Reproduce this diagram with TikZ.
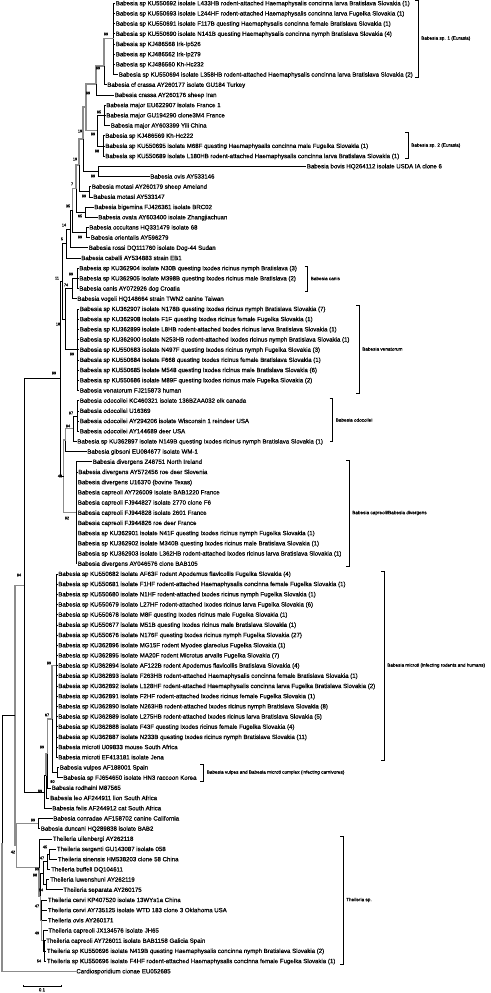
\documentclass[tikz,border=0pt]{standalone}
\usepackage{fontspec}
\setmainfont{Liberation Sans}[FakeBold=0.45]
\newcommand{\lf}[3]{\coordinate (L#1) at (#2,{3.2+(#1-1)*10.19});\node[lt] (T#1) at ([xshift=.7bp,yshift=-2.1bp]L#1) {#3};}
\begin{document}
\begin{tikzpicture}[x=1bp,y=-1bp,
  lt/.style={anchor=base west,inner sep=0,font=\fontsize{6.1}{7}\selectfont},
  bs/.style={inner sep=0,font=\fontsize{3.8}{4}\selectfont},
  cl/.style={anchor=west,inner sep=0,font=\fontsize{4.7}{5}\selectfont},
  br/.style={line width=0.55bp,black},
  gb/.style={line width=1.1bp,black!45},
  brk/.style={line width=0.7bp,black}]
\useasboundingbox (0,0) rectangle (491,993);
% internal nodes
\coordinate (n1) at (113.5,38.9);
\coordinate (n2) at (104,66);
\coordinate (n3) at (96,84);
\coordinate (nM) at (104.3,115.3);
\coordinate (nS2) at (103.5,145.9);
\coordinate (nMS) at (97,130.6);
\coordinate (nA) at (86,107);
\coordinate (nBO) at (98,171.3);
\coordinate (nA2) at (83,139);
\coordinate (nMot) at (89,191.7);
\coordinate (nA3) at (79,165);
\coordinate (nBigO) at (85,212.1);
\coordinate (nA4) at (76,188.5);
\coordinate (nOcc) at (86,232.5);
\coordinate (nA5) at (72.5,210.5);
\coordinate (nA6) at (70,229);
\coordinate (nA7) at (66.5,243.5);
\coordinate (nCan) at (77,278.3);
\coordinate (nCV) at (72,288.5);
\coordinate (nVen) at (77.7,349.7);
\coordinate (nCVV) at (65,319);
\coordinate (nA8) at (62,281);
\coordinate (nOdo) at (77.5,415.9);
\coordinate (nOdo2) at (73,428.6);
\coordinate (nOG) at (65.5,440);
\coordinate (nDiv) at (76,512.7);
\coordinate (nB2) at (63.5,476.4);
\coordinate (nBig) at (60,378.7);
\coordinate (nMic) at (56,665.5);
\coordinate (nVul) at (57,772.5);
\coordinate (nMV) at (52,719);
\coordinate (nMVR) at (47.5,753.4);
\coordinate (nMVRL) at (46,775.7);
\coordinate (nF) at (44.5,792);
\coordinate (nMain) at (24,585.3);
\coordinate (nCD) at (38,823.5);
\coordinate (nSS) at (49.5,854.1);
\coordinate (nSG) at (47,861.7);
\coordinate (nLS) at (46,884.6);
\coordinate (nSL) at (43,873.2);
\coordinate (nCap2) at (44.5,951);
\coordinate (nCap) at (43,940.7);
\coordinate (nCO) at (41.5,920.3);
\coordinate (nTh2) at (40.5,896.8);
\coordinate (nTh) at (39,867.8);
\coordinate (nCT) at (16.5,845.6);
\coordinate (nIng) at (15,715.5);
\coordinate (root) at (2,843.4);
% leaves
\lf{1}{115}{Babesia sp KU550692 isolate L433HB rodent-attached Haemaphysalis concinna larva Bratislava Slovakia (1)}
\lf{2}{115}{Babesia sp KU550693 isolate L244HF rodent-attached Haemaphysalis concinna larva Fugelka Slovakia (1)}
\lf{3}{115}{Babesia sp KU550691 isolate F117B questing Haemaphysalis concinna female Bratislava Slovakia (1)}
\lf{4}{115}{Babesia sp KU550690 isolate N141B questing Haemaphysalis concinna nymph Bratislava Slovakia (4)}
\lf{5}{115}{Babesia sp KJ486568 Irk-Ip526}
\lf{6}{115}{Babesia sp KJ486562 Irk-Ip279}
\lf{7}{115}{Babesia sp KJ486560 Kh-Hc232}
\lf{8}{118}{Babesia sp KU550694 isolate L358HB rodent-attached Haemaphysalis concinna larva Bratislava Slovakia (2)}
\lf{9}{106.5}{Babesia cf crassa AY260177 isolate GU184 Turkey}
\lf{10}{114}{Babesia crassa AY260176 sheep Iran}
\lf{11}{105.5}{Babesia major EU622907 isolate France 1}
\lf{12}{105.5}{Babesia major GU194290 clone3M4 France}
\lf{13}{110}{Babesia major AY603399 Yili China}
\lf{14}{104.5}{Babesia sp KJ486569 Kh-Hc222}
\lf{15}{104.5}{Babesia sp KU550695 isolate M68F questing Haemaphysalis concinna male Fugelka Slovakia (1)}
\lf{16}{104.5}{Babesia sp KU550689 isolate L180HB rodent-attached Haemaphysalis concinna larva Bratislava Slovakia (1)}
\lf{17}{306}{Babesia bovis HQ264112 isolate USDA IA clone 6}
\lf{18}{149.5}{Babesia ovis AY533146}
\lf{19}{91}{Babesia motasi AY260179 sheep Ameland}
\lf{20}{92.5}{Babesia motasi AY533147}
\lf{21}{93.5}{Babesia bigemina FJ426361 isolate BRC02}
\lf{22}{97.5}{Babesia ovata AY603400 isolate Zhangjiachuan}
\lf{23}{88.5}{Babesia occultans HQ331479 isolate 68}
\lf{24}{90}{Babesia orientalis AY596279}
\lf{25}{88}{Babesia rossi DQ111760 isolate Dog-44 Sudan}
\lf{26}{80.5}{Babesia caballi AY534883 strain EB1}
\lf{27}{78.5}{Babesia sp KU362904 isolate N30B questing Ixodes ricinus nymph Bratislava (3)}
\lf{28}{78.5}{Babesia sp KU362905 isolate M398B questing Ixodes ricinus male Bratislava (2)}
\lf{29}{78.5}{Babesia canis AY072926 dog Croatia}
\lf{30}{76.5}{Babesia vogeli HQ148664 strain TWN2 canine Taiwan}
\lf{31}{79}{Babesia sp KU362907 isolate N178B questing Ixodes ricinus nymph Bratislava Slovakia (7)}
\lf{32}{79}{Babesia sp KU362908 isolate F1F questing Ixodes ricinus female Fugelka Slovakia (1)}
\lf{33}{79}{Babesia sp KU362899 isolate L8HB rodent-attached Ixodes ricinus larva Bratislava Slovakia (1)}
\lf{34}{79}{Babesia sp KU362900 isolate N253HB rodent-attached Ixodes ricinus nymph Bratislava Slovakia (1)}
\lf{35}{79}{Babesia sp KU550683 isolate N497F questing Ixodes ricinus nymph Fugelka Slovakia (3)}
\lf{36}{79}{Babesia sp KU550684 isolate F668 questing Ixodes ricinus female Bratislava Slovakia (1)}
\lf{37}{79}{Babesia sp KU550685 isolate M548 questing Ixodes ricinus male Bratislava Slovakia (6)}
\lf{38}{79}{Babesia sp KU550686 isolate M89F questing Ixodes ricinus male Fugelka Slovakia (2)}
\lf{39}{79}{Babesia venatorum FJ215873 human}
\lf{40}{79}{Babesia odocoilei KC460321 isolate 136BZAA032 elk canada}
\lf{41}{79}{Babesia odocoilei U16369}
\lf{42}{79}{Babesia odocoilei AY294206 isolate Wisconsin 1 reindeer USA}
\lf{43}{79}{Babesia odocoilei AY144689 deer USA}
\lf{44}{76.5}{Babesia sp KU362897 isolate N149B questing Ixodes ricinus nymph Bratislava Slovakia (1)}
\lf{45}{86.5}{Babesia gibsoni EU084677 isolate WM-1}
\lf{46}{92}{Babesia divergens Z48751 North Ireland}
\lf{47}{77.5}{Babesia divergens AY572456 roe deer Slovenia}
\lf{48}{77}{Babesia divergens U16370 (bovine Texas)}
\lf{49}{77}{Babesia capreoli AY726009 isolate BAB1220 France}
\lf{50}{77}{Babesia capreoli FJ944827 isolate 2770 clone F6}
\lf{51}{77}{Babesia capreoli FJ944828 isolate 2601 France}
\lf{52}{77}{Babesia capreoli FJ944826 roe deer France}
\lf{53}{77}{Babesia sp KU362901 isolate N41F questing Ixodes ricinus nymph Fugelka Slovakia (1)}
\lf{54}{77}{Babesia sp KU362902 isolate M340B questing Ixodes ricinus male Bratislava Slovakia (1)}
\lf{55}{77}{Babesia sp KU362903 isolate L362HB rodent-attached Ixodes ricinus larva Bratislava Slovakia (1)}
\lf{56}{77}{Babesia divergens AY046576 clone BAB105}
\lf{57}{57.5}{Babesia sp KU550682 isolate AF63F rodent Apodemus flavicollis Fugelka Slovakia (4)}
\lf{58}{57.5}{Babesia sp KU550681 isolate F1HF rodent-attached Haemaphysalis concinna female Fugelka Slovakia (1)}
\lf{59}{57.5}{Babesia sp KU550680 isolate N1HF rodent-attached Ixodes ricinus nymph Fugelka Slovakia (1)}
\lf{60}{57.5}{Babesia sp KU550679 isolate L27HF rodent-attached Ixodes ricinus larva Fugelka Slovakia (6)}
\lf{61}{57.5}{Babesia sp KU550678 isolate M8F questing Ixodes ricinus male Fugelka Slovakia (1)}
\lf{62}{57.5}{Babesia sp KU550677 isolate M51B questing Ixodes ricinus male Bratislava Slovakia (1)}
\lf{63}{57.5}{Babesia sp KU550676 isolate N176F questing Ixodes ricinus nymph Fugelka Slovakia (27)}
\lf{64}{57.5}{Babesia sp KU362896 isolate MG15F rodent Myodes glareolus Fugelka Slovakia (1)}
\lf{65}{57.5}{Babesia sp KU362895 isolate MA20F rodent Microtus arvalis Fugelka Slovakia (7)}
\lf{66}{57.5}{Babesia sp KU362894 isolate AF122B rodent Apodemus flavicollis Bratislava Slovakia (4)}
\lf{67}{57.5}{Babesia sp KU362893 isolate F263HB rodent-attached Haemaphysalis concinna female Bratislava Slovakia (1)}
\lf{68}{57.5}{Babesia sp KU362892 isolate L128HF rodent-attached Haemaphysalis concinna larva Fugelka Bratislava Slovakia (2)}
\lf{69}{57.5}{Babesia sp KU362891 isolate F2HF rodent-attached Ixodes ricinus female Fugelka Slovakia (1)}
\lf{70}{57.5}{Babesia sp KU362890 isolate N263HB rodent-attached Ixodes ricinus nymph Bratislava Slovakia (8)}
\lf{71}{57.5}{Babesia sp KU362889 isolate L275HB rodent-attached Ixodes ricinus larva Bratislava Slovakia (5)}
\lf{72}{57.5}{Babesia sp KU362888 isolate F43F questing Ixodes ricinus female Fugelka Slovakia (4)}
\lf{73}{57.5}{Babesia sp KU362887 isolate N233B questing Ixodes ricinus nymph Bratislava Slovakia (11)}
\lf{74}{57.5}{Babesia microti U09833 mouse South Africa}
\lf{75}{57.5}{Babesia microti EF413181 isolate Jena}
\lf{76}{59}{Babesia vulpes AF188001 Spain}
\lf{77}{62.5}{Babesia sp FJ654650 isolate HN3 raccoon Korea}
\lf{78}{51}{Babesia rodhaini M87565}
\lf{79}{49.3}{Babesia leo AF244911 lion South Africa}
\lf{80}{51.5}{Babesia felis AF244912 cat South Africa}
\lf{81}{52.5}{Babesia conradae AF158702 canine California}
\lf{82}{40}{Babesia duncani HQ289838 isolate BAB2}
\lf{83}{52}{Theileria uilenbergi AY262118}
\lf{84}{56}{Theileria sergenti GU143087 isolate 058}
\lf{85}{57}{Theileria sinensis HM538203 clone 58 China}
\lf{86}{50.3}{Theileria buffeli DQ104611}
\lf{87}{49.3}{Theileria luwenshuni AY262119}
\lf{88}{62.5}{Theileria separata AY260175}
\lf{89}{47}{Theileria cervi KP407520 isolate 13WYs1a China}
\lf{90}{47}{Theileria cervi AY735125 isolate WTD 183 clone 3 Oklahoma USA}
\lf{91}{47}{Theileria ovis AY260171}
\lf{92}{47.5}{Theileria capreoli JX134576 isolate JH65}
\lf{93}{45.3}{Theileria capreoli AY726011 isolate BAB1158 Galicia Spain}
\lf{94}{46}{Theileria sp KU550696 isolate N419B questing Haemaphysalis concinna nymph Bratislava Slovakia (2)}
\lf{95}{46}{Theileria sp KU550696 isolate F4HF rodent-attached Haemaphysalis concinna female Fugelka Slovakia (1)}
\lf{96}{75.5}{Cardiosporidium cionae EU052685}
% edges: leaves
\foreach \i in {1,...,8} \draw[br] (n1) |- (L\i);
\draw[br] (n2) |- (L9);
\draw[br] (n3) |- (L10);
\foreach \i in {11,12,13} \draw[br] (nM) |- (L\i);
\foreach \i in {14,15,16} \draw[br] (nS2) |- (L\i);
\foreach \i in {17,18} \draw[br] (nBO) |- (L\i);
\foreach \i in {19,20} \draw[br] (nMot) |- (L\i);
\foreach \i in {21,22} \draw[br] (nBigO) |- (L\i);
\foreach \i in {23,24} \draw[br] (nOcc) |- (L\i);
\draw[br] (nA6) |- (L25);
\draw[br] (nA7) |- (L26);
\foreach \i in {27,28,29} \draw[br] (nCan) |- (L\i);
\draw[br] (nCV) |- (L30);
\foreach \i in {31,...,39} \draw[br] (nVen) |- (L\i);
\foreach \i in {40,...,43} \draw[br] (nOdo) |- (L\i);
\draw[br] (nOdo2) |- (L44);
\draw[br] (nOG) |- (L45);
\foreach \i in {46,...,56} \draw[br] (nDiv) |- (L\i);
\foreach \i in {57,...,75} \draw[br] (nMic) |- (L\i);
\foreach \i in {76,77} \draw[br] (nVul) |- (L\i);
\draw[br] (nMVR) |- (L78);
\draw[br] (nMVRL) |- (L79);
\draw[br] (nF) |- (L80);
\foreach \i in {81,82} \draw[br] (nCD) |- (L\i);
\draw[br] (nTh) |- (L83);
\foreach \i in {84,85} \draw[br] (nSS) |- (L\i);
\draw[br] (nSG) |- (L86);
\foreach \i in {87,88} \draw[br] (nLS) |- (L\i);
\foreach \i in {89,90,91} \draw[br] (nCO) |- (L\i);
\draw[br] (nCap) |- (L92);
\foreach \i in {93,94,95} \draw[br] (nCap2) |- (L\i);
\draw[gb] (root) |- (L96);
% edges: internal
\draw[gb] (n2) |- (n1);
\draw[gb] (n3) |- (n2);
\draw[gb] (nA) |- (n3);
\draw[br] (nMS) |- (nM);
\draw[br] (nMS) |- (nS2);
\draw[gb] (nA) |- (nMS);
\draw[gb] (nA2) |- (nA);
\draw[br] (nA2) |- (nBO);
\draw[gb] (nA3) |- (nA2);
\draw[br] (nA3) |- (nMot);
\draw[gb] (nA4) |- (nA3);
\draw[br] (nA4) |- (nBigO);
\draw[gb] (nA5) |- (nA4);
\draw[br] (nA5) |- (nOcc);
\draw[br] (nA6) |- (nA5);
\draw[br] (nA7) |- (nA6);
\draw[br] (nCV) |- (nCan);
\draw[br] (nCVV) |- (nCV);
\draw[br] (nCVV) |- (nVen);
\draw[br] (nA8) |- (nA7);
\draw[br] (nA8) |- (nCVV);
\draw[br] (nOdo2) |- (nOdo);
\draw[gb] (nOG) |- (nOdo2);
\draw[gb] (nB2) |- (nOG);
\draw[gb] (nB2) |- (nDiv);
\draw[br] (nBig) |- (nA8);
\draw[br] (nBig) |- (nB2);
\draw[gb] (nMV) |- (nMic);
\draw[br] (nMV) |- (nVul);
\draw[gb] (nMVR) |- (nMV);
\draw[gb] (nMVRL) |- (nMVR);
\draw[br] (nF) |- (nMVRL);
\draw[br] (nMain) |- (nBig);
\draw[br] (nMain) |- (nF);
\draw[br] (nSG) |- (nSS);
\draw[br] (nSL) |- (nSG);
\draw[br] (nSL) |- (nLS);
\draw[br] (nCap) |- (nCap2);
\draw[gb] (nCO) |- (nCap);
\draw[br] (nTh2) |- (nSL);
\draw[gb] (nTh2) |- (nCO);
\draw[gb] (nTh) |- (nTh2);
\draw[gb] (nCT) |- (nCD);
\draw[gb] (nCT) |- (nTh);
\draw[gb] (nIng) |- (nMain);
\draw[gb] (nIng) |- (nCT);
\draw[br] (root) |- (nIng);
% bootstrap values
\node[bs] (b1) at (106,34) {99};
\node[bs] (b2) at (98,68) {99};
\node[bs] (b3) at (88,93) {99};
\node[bs] (b4) at (99,112) {95};
\node[bs] (b5) at (80,131) {19};
\node[bs] (b6) at (93,134) {99};
\node[bs] (b7) at (97,151) {98};
\node[bs] (b8) at (75,159) {19};
\node[bs] (b9) at (93,176) {99};
\node[bs] (b10) at (72,184) {7};
\node[bs] (b11) at (84,196) {99};
\node[bs] (b12) at (68,206) {35};
\node[bs] (b13) at (80,216) {65};
\node[bs] (b14) at (64,225) {14};
\node[bs] (b15) at (80,237) {99};
\node[bs] (b16) at (62,239) {5};
\node[bs] (b17) at (71,274) {99};
\node[bs] (b18) at (57,278) {11};
\node[bs] (b19) at (66,285) {74};
\node[bs] (b20) at (58,324) {18};
\node[bs] (b21) at (72,354) {99};
\node[bs] (b22) at (54,373) {99};
\node[bs] (b23) at (71,413) {97};
\node[bs] (b24) at (68,426) {94};
\node[bs] (b25) at (60,476) {48};
\node[bs] (b26) at (67,518) {92};
\node[bs] (b27) at (19,575) {94};
\node[bs] (b28) at (49,663) {99};
\node[bs] (b29) at (47,715) {67};
\node[bs] (b30) at (42,747) {99};
\node[bs] (b31) at (52.5,781.5) {80};
\node[bs] (b32) at (40,791) {99};
\node[bs] (b33) at (33,820) {99};
\node[bs] (b34) at (13,852) {42};
\node[bs] (b35) at (45,847) {45};
\node[bs] (b36) at (42,858) {47};
\node[bs] (b37) at (37,869) {99};
\node[bs] (b38) at (35,875) {98};
\node[bs] (b39) at (41,890) {54};
\node[bs] (b40) at (37,906) {47};
\node[bs] (b41) at (37,933) {49};
\node[bs] (b42) at (39,961) {54};
% clade brackets
\coordinate (k1) at (415,0.8); \coordinate (k1b) at (415,77.5);
\draw[brk] (k1) -- ++(3,0) |- (k1b);
\node[cl] (c1) at (421,38.5) {Babesia sp. 1 (Eurasia)};
\coordinate (k2) at (405.3,132.7); \coordinate (k2b) at (405.3,158.3);
\draw[brk] (k2) -- ++(3,0) |- (k2b);
\node[cl] (c2) at (411,145.5) {Babesia sp. 2 (Eurasia)};
\coordinate (k3) at (304.7,266); \coordinate (k3b) at (304.7,291);
\draw[brk] (k3) -- ++(3,0) |- (k3b);
\node[cl] (c3) at (310.5,278.5) {Babesia canis};
\coordinate (k4) at (356.3,305); \coordinate (k4b) at (356.3,393);
\draw[brk] (k4) -- ++(3,0) |- (k4b);
\node[cl] (c4) at (362,349) {Babesia venatorum};
\coordinate (k5) at (329.7,398.3); \coordinate (k5b) at (329.7,441.7);
\draw[brk] (k5) -- ++(3,0) |- (k5b);
\node[cl] (c5) at (335.5,420) {Babesia odocoilei};
\coordinate (k6) at (346.3,460); \coordinate (k6b) at (346.3,566);
\draw[brk] (k6) -- ++(3,0) |- (k6b);
\node[cl] (c6) at (352,513) {Babesia capreoli/Babesia divergens};
\coordinate (k7) at (381.3,571); \coordinate (k7b) at (381.3,760);
\draw[brk] (k7) -- ++(3,0) |- (k7b);
\node[cl] (c7) at (387,665.5) {Babesia microti (infecting rodents and humans)};
\coordinate (k8) at (200.3,764.3); \coordinate (k8b) at (200.3,781);
\draw[brk] (k8) -- ++(3,0) |- (k8b);
\node[cl] (c8) at (206.5,772.5) {Babesia vulpes and Babesia microti complex (infecting carnivores)};
\coordinate (k9) at (340.3,836); \coordinate (k9b) at (340.3,964);
\draw[brk] (k9) -- ++(3,0) |- (k9b);
\node[cl] (c9) at (346,900) {Theileria sp.};
% scale bar
\coordinate (s1) at (23,986); \coordinate (s2) at (61,986);
\draw[br] (s1) -- (s2);
\draw[br] ([yshift=1.2bp]s1) -- ([yshift=-1.2bp]s1);
\draw[br] ([yshift=1.2bp]s2) -- ([yshift=-1.2bp]s2);
\node[bs,anchor=north,font=\fontsize{4.5}{5}\selectfont] (sl) at (42,988) {0.1};
\end{tikzpicture}
\end{document}
